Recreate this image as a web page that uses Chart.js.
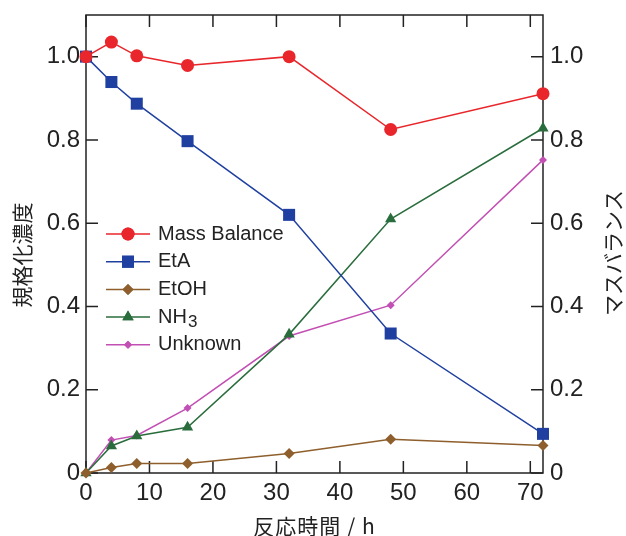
<!DOCTYPE html>
<html lang="ja">
<head>
  <meta charset="UTF-8">
  <script src="https://cdn.jsdelivr.net/npm/chart.js"></script>
  <title>反応時間と規格化濃度</title>
  <style>
    html, body { margin: 0; padding: 0; background: #fff; }
    .card { position: relative; width: 626px; height: 536px; }
  </style>
</head>
<body>
  <div class="card">
    <canvas id="grafico"></canvas>
  </div>

  <script>
    // dados
    var tempos = [0, 4, 8, 16, 32, 48, 72];
    var massBalance = [1.0, 1.035, 1.002, 0.979, 1.0, 0.825, 0.911];
    var etA = [1.0, 0.939, 0.887, 0.797, 0.620, 0.335, 0.094];
    var etOH = [0.0, 0.013, 0.023, 0.023, 0.047, 0.081, 0.066];
    var nh3 = [0.0, 0.065, 0.089, 0.110, 0.333, 0.610, 0.828];
    var unknown = [0.0, 0.079, 0.090, 0.156, 0.329, 0.403, 0.752];

    var xTicks = [0, 10, 20, 30, 40, 50, 60, 70];
    var yTicks = [0, 0.2, 0.4, 0.6, 0.8, 1.0];

    var nomes = ['Mass Balance', 'EtA', 'EtOH', 'NH3', 'Unknown'];
    var cores = ['#e8262b', '#1f40a0', '#8e5f2c', '#2a6d3d', '#c24fb3'];

    function pares(valores) {
      var lista = [];
      for (var i = 0; i < tempos.length; i++) {
        lista.push({ x: tempos[i], y: valores[i] });
      }
      return lista;
    }

    function serie(idx, valores, estilo, raio) {
      return {
        label: nomes[idx],
        data: pares(valores),
        borderColor: cores[idx],
        backgroundColor: cores[idx],
        borderWidth: 1.5,
        pointStyle: estilo,
        pointRadius: raio,
        pointHoverRadius: raio,
        pointBorderWidth: 0,
        tension: 0,
        clip: false
      };
    }

    var fonteJp = "21px 'Noto Sans CJK JP', sans-serif";

    // moldura, ticks para dentro, títulos e legenda
    var extras = {
      id: 'extras',
      beforeDatasetsDraw: function (chart) {
        var ctx = chart.ctx;
        var a = chart.chartArea;
        var sx = chart.scales.x;
        var sy = chart.scales.y;
        ctx.save();
        ctx.strokeStyle = '#222';
        ctx.lineWidth = 1.5;
        ctx.strokeRect(a.left, a.top, a.right - a.left, a.bottom - a.top);
        ctx.beginPath();
        for (var i = 0; i < xTicks.length; i++) {
          var px = sx.getPixelForValue(xTicks[i]);
          ctx.moveTo(px, a.bottom); ctx.lineTo(px, a.bottom - 12);
          ctx.moveTo(px, a.top); ctx.lineTo(px, a.top + 12);
        }
        for (var j = 0; j < yTicks.length; j++) {
          var py = sy.getPixelForValue(yTicks[j]);
          ctx.moveTo(a.left, py); ctx.lineTo(a.left + 12, py);
          ctx.moveTo(a.right, py); ctx.lineTo(a.right - 12, py);
        }
        ctx.stroke();

        // títulos dos eixos
        ctx.fillStyle = '#222';
        ctx.font = fonteJp;
        ctx.textAlign = 'center';
        ctx.textBaseline = 'middle';
        ctx.save();
        ctx.letterSpacing = '1px';
        ctx.fillText('反応時間 / h', (a.left + a.right) / 2, 526);
        ctx.restore();
        ctx.save();
        ctx.translate(22, 255);
        ctx.rotate(-Math.PI / 2);
        ctx.fillText('規格化濃度', 0, 0);
        ctx.restore();
        ctx.save();
        ctx.translate(613, 253);
        ctx.rotate(-Math.PI / 2);
        ctx.fillText('マスバランス', 0, 0);
        ctx.restore();
        ctx.restore();
      },
      afterDatasetsDraw: function (chart) {
        var ctx = chart.ctx;
        ctx.save();
        for (var i = 0; i < chart.data.datasets.length; i++) {
          var ds = chart.data.datasets[i];
          var y = 234 + i * 27.7;
          ctx.strokeStyle = ds.borderColor;
          ctx.lineWidth = 1.5;
          ctx.beginPath();
          ctx.moveTo(106, y); ctx.lineTo(150, y);
          ctx.stroke();
          ctx.fillStyle = ds.backgroundColor;
          Chart.helpers.drawPoint(ctx, { pointStyle: ds.pointStyle, radius: ds.pointRadius, borderWidth: 0 }, 128, y);
          ctx.fill();
          ctx.fillStyle = '#222';
          ctx.textAlign = 'left';
          ctx.textBaseline = 'middle';
          ctx.font = "20px 'Liberation Sans', Arial, sans-serif";
          if (ds.label === 'NH3') {
            ctx.fillText('NH', 158, y);
            var w = ctx.measureText('NH').width;
            ctx.font = "17px 'Liberation Sans', Arial, sans-serif";
            ctx.fillText('3', 158 + w + 1, y + 5);
          } else {
            ctx.fillText(ds.label, 158, y);
          }
        }
        ctx.restore();
      }
    };

    function fixarTicks(lista) {
      return function (scale) {
        scale.ticks = lista.map(function (v) { return { value: v }; });
      };
    }

    function rotuloY(v) {
      return v === 0 ? '0' : Number(v).toFixed(1);
    }

    function larguraY(w) {
      return function (s) {
        s.width = w;
        s.paddingTop = 0;
        s.paddingBottom = 0;
      };
    }

    var fonteTick = { family: "'Liberation Sans', Arial, sans-serif", size: 24 };

    var ctx = document.getElementById('grafico').getContext('2d');
    var grafico = new Chart(ctx, {
      type: 'line',
      data: {
        datasets: [
          serie(0, massBalance, 'circle', 6.5),
          serie(1, etA, 'rect', 8.5),
          serie(2, etOH, 'rectRot', 5.5),
          serie(3, nh3, 'triangle', 6.5),
          serie(4, unknown, 'rectRot', 4)
        ]
      },
      options: {
        responsive: true,
        maintainAspectRatio: false,
        animation: false,
        layout: { padding: { top: 15, left: 0, right: 0, bottom: 0 } },
        plugins: {
          legend: { display: false },
          tooltip: { enabled: false }
        },
        scales: {
          x: {
            type: 'linear',
            min: 0,
            max: 72,
            afterBuildTicks: fixarTicks(xTicks),
            afterFit: function (s) { s.height = 63; },
            grid: { display: false, drawTicks: false },
            border: { display: false },
            ticks: { color: '#222', padding: 6, font: fonteTick }
          },
          y: {
            position: 'left',
            min: 0,
            max: 1.1,
            afterBuildTicks: fixarTicks(yTicks),
            afterFit: larguraY(86),
            grid: { display: false, drawTicks: false },
            border: { display: false },
            ticks: { color: '#222', padding: 6, callback: rotuloY, font: fonteTick }
          },
          y2: {
            position: 'right',
            min: 0,
            max: 1.1,
            afterBuildTicks: fixarTicks(yTicks),
            afterFit: larguraY(83),
            grid: { display: false, drawTicks: false },
            border: { display: false },
            ticks: { color: '#222', padding: 7, callback: rotuloY, font: fonteTick }
          }
        }
      },
      plugins: [extras]
    });
  </script>
</body>
</html>
